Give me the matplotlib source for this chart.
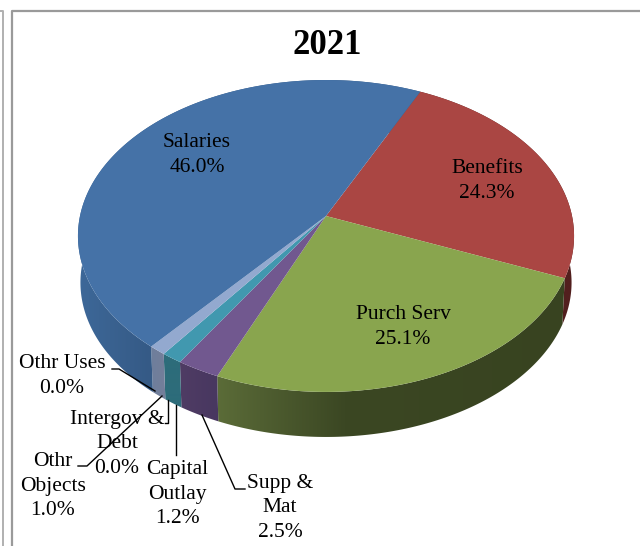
import numpy as np
import matplotlib
matplotlib.use('Agg')
import matplotlib.pyplot as plt
from matplotlib.colors import to_rgb
from matplotlib.patches import Polygon

plt.rcParams['font.family'] = ['Liberation Serif', 'DejaVu Serif']

# Budget shares, clockwise from the Salaries/Benefits boundary
categories = ['Benefits', 'Purch Serv', 'Supp & Mat', 'Capital Outlay', 'Intergov & Debt',
              'Othr Objects', 'Othr Uses', 'Salaries']
shares = [24.3, 25.1, 2.5, 1.2, 0.0, 1.0, 0.0, 46.0]
top_colors = ['#AA4643', '#89A54E', '#71588F', '#4198AF', '#DB843D', '#93A9CF', '#D19392', '#4572A7']
# side wall shade, (x, colour) stops running left to right
side_stops = [
    [(500, '#5A2422'), (640, '#4A1A1A')],
    [(217, '#5B6C38'), (260, '#505F31'), (345, '#3B4723'), (640, '#37421F')],
    [(180, '#4F3C64'), (217, '#483760')],
    [(165, '#2D6C7A'), (180, '#2D6C7A')],
    [(165, '#985C2A'), (180, '#985C2A')],
    [(150, '#6E7E9C'), (165, '#737F9A')],
    [(150, '#926665'), (165, '#926665')],
    [(78, '#3D6899'), (110, '#3A6290'), (150, '#355A86')],
]

CX, CY = 326, 216
A, B, K = 246, 153.4, 0.128
START = 64.7
DEPTH, SHRINK = 46.8, 0.99


def project(theta, scale=1.0, dy=0.0):
    # perspective view of the unit circle, the far edge comes out smaller
    u, v = np.cos(theta), np.sin(theta)
    w = 1 + K * v
    return CX + scale * A * u / w, CY + dy - scale * B * v / w


def shade(stops):
    # one row image with the colour stops spread over the full width
    xs = np.arange(640) + 0.5
    pos = [p for p, _ in stops]
    rgb = np.array([to_rgb(c) for _, c in stops])
    return np.dstack([np.interp(xs, pos, rgb[:, k]) for k in range(3)])


fig = plt.figure(figsize=(6.4, 5.46), dpi=100)
ax = fig.add_axes([0, 0, 1, 1])
ax.set_xlim(0, 640)
ax.set_ylim(546, 0)
ax.axis('off')

# page frames
ax.plot([12, 12, 640], [546, 11, 11], color='#9a9a9a', lw=1.6)
ax.plot([0, 3, 3], [11, 11, 546], color='#b0b0b0', lw=1.4)

fractions = np.array(shares) / sum(shares)
edges = np.radians(START - 360 * np.concatenate([[0], np.cumsum(fractions)]))

# side walls, the back part stays hidden under the top face
for i in range(len(shares)):
    if shares[i] == 0:
        continue
    t = np.linspace(edges[i], edges[i + 1], 200)
    x1, y1 = project(t)
    x2, y2 = project(t, SHRINK, DEPTH)
    wall = Polygon(np.c_[np.r_[x1, x2[::-1]], np.r_[y1, y2[::-1]]], closed=True,
                   transform=ax.transData, fc='none', ec='none')
    ax.add_patch(wall)
    im = ax.imshow(shade(side_stops[i]), extent=(0, 640, 546, 0), aspect='auto',
                   interpolation='bilinear', zorder=2)
    im.set_clip_path(wall)
ax.set_xlim(0, 640)
ax.set_ylim(546, 0)

# top face
for i in range(len(shares)):
    if shares[i] == 0:
        continue
    t = np.linspace(edges[i], edges[i + 1], 200)
    x, y = project(t)
    ax.fill(np.r_[CX, x], np.r_[CY, y], color=top_colors[i], lw=0, zorder=3)

ax.text(327, 46, '2021', ha='center', va='center', fontsize=25, fontweight='bold', zorder=5)

labels = [
    (197, 155, 'Salaries\n46.0%'),
    (487, 181, 'Benefits\n24.3%'),
    (403, 327, 'Purch Serv\n25.1%'),
    (62, 376, 'Othr Uses\n0.0%'),
    (117, 444, 'Intergov &\nDebt\n0.0%'),
    (53, 486, 'Othr\nObjects\n1.0%'),
    (177, 494, 'Capital\nOutlay\n1.2%'),
    (280, 508, 'Supp &\nMat\n2.5%'),
]
for x, y, s in labels:
    ax.text(x, y, s, ha='center', va='center', fontsize=15.5, linespacing=1.42, zorder=5)

# leader lines
leaders = [
    ([112, 119, 155], [369, 369, 391]),
    ([165, 168, 168], [423, 423, 400]),
    ([176, 176], [405, 455]),
    ([78, 87, 162], [466, 466, 396]),
    ([245, 235, 202], [489, 489, 415]),
]
for xs, ys in leaders:
    ax.plot(xs, ys, color='black', lw=1.0, zorder=4)

fig.savefig('out.png', dpi=100)
